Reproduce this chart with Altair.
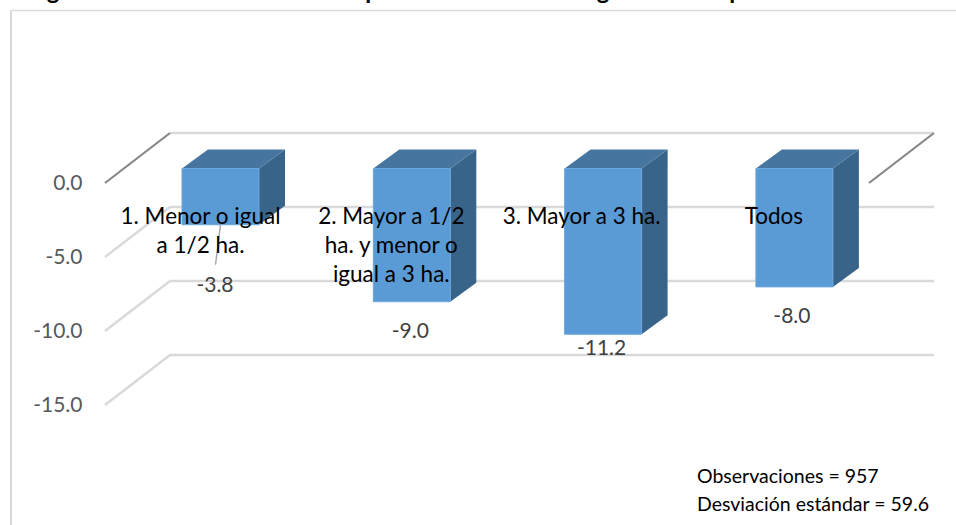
import altair as alt
import pandas as pd

# Survey results by holding size
categories = ["1. Menor o igual\na 1/2 ha.", "2. Mayor a 1/2\nha. y menor o\nigual a 3 ha.", "3. Mayor a 3 ha.", "Todos"]
values = [-3.8, -9.0, -11.2, -8.0]
axis_ticks = [0, -5, -10, -15]
notes = ["Observaciones = 957", "Desviación estándar = 59.6"]
title_fragments = ["g", "p", "g", "p"]

# Oblique projection, in scale units (one x unit is the spacing between bars)
W, H = 956, 525
PX_X, PX_Y = 191.3, 14.8
X0, Y0 = 182.0, 183.0
bar_w = 77 / PX_X
bar_dx, bar_dv = 26 / PX_X, 19 / PX_Y
plane_v = 14.5 / PX_Y
wall_dx, wall_dv = 65 / PX_X, 50 / PX_Y
grid_left = (105 - X0) / PX_X
grid_right = (869 - X0) / PX_X
label_drop = [61.5, 30.5, 15, 30]
label_shift = [-5.5, -1.5, -1.5, -2.5]
cat_shift = [-20, -20.5, -21.5, -20.5]
cat_top = (Y0 - 205.5) / PX_Y
note_x = (697 - X0) / PX_X
note_v = [(Y0 - 477) / PX_Y, (Y0 - 505) / PX_Y]
heading_x = [(p - X0) / PX_X for p in (53, 372, 603, 736)]

x_scale = alt.Scale(domain=[-X0 / PX_X, (W - X0) / PX_X], range=[0, W], nice=False, zero=False)
y_scale = alt.Scale(domain=[Y0 / PX_Y, (Y0 - H) / PX_Y], range=[0, H], nice=False, zero=False)
X = lambda f="x": alt.X(f"{f}:Q", scale=x_scale, axis=None)
Y = lambda f="y": alt.Y(f"{f}:Q", scale=y_scale, title=None)

# Floor grid: slanted edges plus the lines along the back wall
grid_rows, zero_rows = [], []
for t in axis_ticks:
    rows = [
        {"line": f"{t}-a", "x": grid_left, "y": t},
        {"line": f"{t}-a", "x": grid_left + wall_dx, "y": t + wall_dv},
    ]
    (zero_rows if t == 0 else grid_rows).extend(rows)
    grid_rows.extend([
        {"line": f"{t}-b", "x": grid_left + wall_dx, "y": t + wall_dv},
        {"line": f"{t}-b", "x": grid_right + wall_dx, "y": t + wall_dv},
    ])
zero_rows.extend([
    {"line": "right", "x": grid_right, "y": 0},
    {"line": "right", "x": grid_right + wall_dx, "y": wall_dv},
])

# Box faces computed from each value
front, side, top, text_rows, cat_rows = [], [], [], [], []
for i, (cat, v) in enumerate(zip(categories, values)):
    l, r = i, i + bar_w
    up, low = plane_v, v + plane_v
    front.append({"x": l, "x2": r, "y": up, "y2": low})
    side.extend([
        {"bar": i, "x": r, "y": up, "y2": low},
        {"bar": i, "x": r + bar_dx, "y": up + bar_dv, "y2": low + bar_dv},
    ])
    top.extend([
        {"bar": i, "x": l, "y": up, "y2": up},
        {"bar": i, "x": l + bar_dx, "y": up + bar_dv, "y2": up},
        {"bar": i, "x": r, "y": up + bar_dv, "y2": up},
        {"bar": i, "x": r + bar_dx, "y": up + bar_dv, "y2": up + bar_dv},
    ])
    text_rows.append({
        "x": l + bar_w / 2 + label_shift[i] / PX_X,
        "y": low - label_drop[i] / PX_Y,
        "label": f"{v:.1f}",
    })
    cat_rows.append({"x": l + bar_w / 2 + cat_shift[i] / PX_X, "y": cat_top, "label": cat})

# Leader line from the first box down to its value
lead_x = bar_w / 2
leader = [
    {"x": lead_x, "y": values[0] + plane_v},
    {"x": lead_x - 5 / PX_X, "y": values[0] + plane_v - 40 / PX_Y},
]

axis_layer = alt.Chart(pd.DataFrame(grid_rows)).mark_line(color="#d9d9d9", strokeWidth=2.4).encode(
    x=X(),
    y=alt.Y(
        "y:Q",
        scale=y_scale,
        title=None,
        axis=alt.Axis(
            values=axis_ticks,
            offset=-82,
            domain=False,
            ticks=False,
            grid=False,
            labelPadding=0,
            labelFontSize=21,
            labelFont="Lato",
            labelColor="#595959",
            labelExpr="replace(format(datum.value, '.1f'), '\u2212', '-')",
        ),
    ),
    detail="line:N",
)
zero_layer = alt.Chart(pd.DataFrame(zero_rows)).mark_line(color="#868686", strokeWidth=2.2).encode(
    x=X(), y=Y(), detail="line:N"
)
side_layer = alt.Chart(pd.DataFrame(side)).mark_area(color="#39648a").encode(
    x=X(), y=Y(), y2="y2:Q", detail="bar:N"
)
top_layer = alt.Chart(pd.DataFrame(top)).mark_area(color="#46769f").encode(
    x=X(), y=Y(), y2="y2:Q", detail="bar:N"
)
front_layer = alt.Chart(pd.DataFrame(front)).mark_rect(
    color="#5b9bd5", stroke="#6ba7dd", strokeWidth=1
).encode(x=X(), x2="x2:Q", y=Y(), y2="y2:Q")
leader_layer = alt.Chart(pd.DataFrame(leader)).mark_line(color="#a6a6a6", strokeWidth=1.4).encode(x=X(), y=Y())
value_labels = alt.Chart(pd.DataFrame(text_rows)).mark_text(
    font="Lato", fontSize=21, color="#404040"
).encode(x=X(), y=Y(), text="label:N")
category_labels = alt.Chart(pd.DataFrame(cat_rows)).mark_text(
    font="Lato", fontSize=22.5, color="#000000", baseline="top", lineBreak="\n", lineHeight=29
).encode(x=X(), y=Y(), text="label:N")
note_labels = alt.Chart(pd.DataFrame({"x": [note_x] * 2, "y": note_v, "label": notes})).mark_text(
    font="Lato", fontSize=19.5, color="#000000", align="left"
).encode(x=X(), y=Y(), text="label:N")

# Heading cut off by the top of the frame, and the frame itself
heading = alt.Chart(pd.DataFrame({"label": title_fragments, "x": heading_x})).mark_text(
    font="Lato", fontSize=24, fontWeight="bold", color="#000000", baseline="alphabetic"
).encode(x=X(), y=alt.value(-1), text="label:N")
frame_top = alt.Chart(pd.DataFrame({"a": [0]})).mark_rule(color="#d9d9d9", strokeWidth=1.5).encode(
    x=alt.value(11), x2=alt.value(W), y=alt.value(10.5)
)
frame_left = alt.Chart(pd.DataFrame({"a": [0]})).mark_rule(color="#d9d9d9", strokeWidth=2).encode(
    x=alt.value(11), y=alt.value(10.5), y2=alt.value(H)
)

chart = alt.layer(
    frame_top, frame_left, axis_layer, zero_layer,
    side_layer, top_layer, front_layer, leader_layer,
    value_labels, category_labels, note_labels, heading,
).properties(width=W, height=H, padding=0, autosize=alt.AutoSizeParams(type="none"), background="#ffffff"
).configure_view(stroke=None)

chart.save("out.html", embed_options={"renderer": "svg", "actions": False})
